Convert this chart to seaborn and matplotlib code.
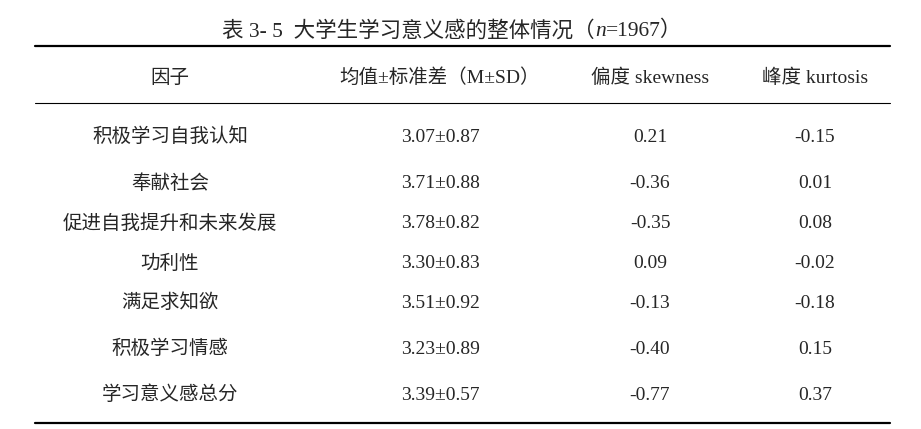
import matplotlib
matplotlib.use("Agg")
import matplotlib.pyplot as plt
import seaborn as sns

sns.set_theme(style="white")
plt.rcParams['font.family'] = ['Liberation Serif', 'Noto Sans CJK SC']

title_parts = ["表 3- 5  大学生学习意义感的整体情况（", "n", "=1967）"]
headers = ["因子", "均值±标准差（M±SD）", "偏度 skewness", "峰度 kurtosis"]
factors = ["积极学习自我认知", "奉献社会", "促进自我提升和未来发展", "功利性",
           "满足求知欲", "积极学习情感", "学习意义感总分"]
mean_sd = ["3.07±0.87", "3.71±0.88", "3.78±0.82", "3.30±0.83",
           "3.51±0.92", "3.23±0.89", "3.39±0.57"]
skewness = ["0.21", "-0.36", "-0.35", "0.09", "-0.13", "-0.40", "-0.77"]
kurtosis = ["-0.15", "0.01", "0.08", "-0.02", "-0.18", "0.15", "0.37"]

col_x = [170, 440, 650, 815]
row_y = [137, 184, 224, 264, 303, 349, 395]
fs = 14

fig = plt.figure(figsize=(9.21, 4.29), dpi=100)
ax = fig.add_axes([0, 0, 1, 1])
ax.set_xlim(0, 921)
ax.set_ylim(429, 0)
ax.axis("off")

fig.canvas.draw()
r = fig.canvas.get_renderer()
styles = ["normal", "italic", "normal"]
texts = []
for p, s in zip(title_parts, styles):
    texts.append(ax.text(0, 31, p, fontsize=fs + 1.5, style=s, va="center", ha="left"))
widths = [t.get_window_extent(r).width for t in texts]
x = 452 - sum(widths) / 2
for t, w in zip(texts, widths):
    t.set_x(x)
    x += w

ax.plot([35, 890], [46, 46], color="black", lw=1.6)
ax.plot([35, 890], [103, 103], color="black", lw=0.8)
ax.plot([35, 890], [423, 423], color="black", lw=1.6)

for cx, h in zip(col_x, headers):
    ax.text(cx, 78, h, fontsize=fs, ha="center", va="center")
for i, y in enumerate(row_y):
    for cx, v in zip(col_x, [factors[i], mean_sd[i], skewness[i], kurtosis[i]]):
        ax.text(cx, y, v, fontsize=fs, ha="center", va="center")

fig.savefig("out.png", dpi=100)
